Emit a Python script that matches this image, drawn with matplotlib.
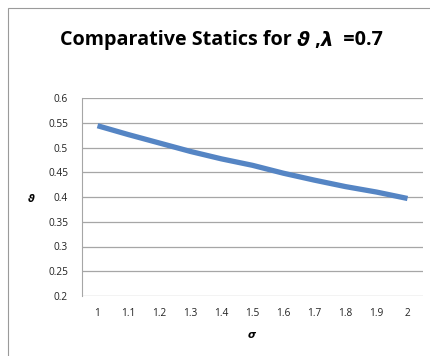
import matplotlib
matplotlib.use("Agg")
import matplotlib.pyplot as plt
from matplotlib.patches import Rectangle

# data
sigma = ["1", "1.1", "1.2", "1.3", "1.4", "1.5", "1.6", "1.7", "1.8", "1.9", "2"]
theta = [0.544, 0.526, 0.509, 0.492, 0.477, 0.464, 0.448, 0.434, 0.421, 0.410, 0.397]
y_ticks = [0.2, 0.25, 0.3, 0.35, 0.4, 0.45, 0.5, 0.55, 0.6]
y_labels = ["0.2", "0.25", "0.3", "0.35", "0.4", "0.45", "0.5", "0.55", "0.6"]

W, H = 431, 356
fig = plt.figure(figsize=(W / 100, H / 100), dpi=100)
fig.patch.set_facecolor("white")

# chart border (only left and top edges are inside the picture)
fig.patches.append(Rectangle((8 / W, -20 / H), 440 / W, 368 / H, transform=fig.transFigure,
                             fill=False, edgecolor="#9a9a9a", linewidth=0.8))

ax = fig.add_axes([82 / W, 1 - 296 / H, 341 / W, 198 / H])
x = range(len(sigma))
ax.plot(x, theta, color="#5585c4", linewidth=3.8, solid_capstyle="butt")
ax.set_xlim(-0.5, len(sigma) - 0.5)
ax.set_ylim(0.2, 0.6)
ax.set_xticks(list(x))
ax.set_xticklabels(sigma)
ax.set_yticks(y_ticks)
ax.set_yticklabels(y_labels)
ax.tick_params(axis="y", length=0, labelsize=7.3, colors="#222222", pad=10)
ax.tick_params(axis="x", length=0, labelsize=7.3, colors="#222222", pad=9)
for lab in ax.get_xticklabels() + ax.get_yticklabels():
    lab.set_family("Open Sans")
ax.grid(axis="y", color="#a6a6a6", linewidth=0.9)
ax.set_axisbelow(True)
for s in ["top", "right", "bottom"]:
    ax.spines[s].set_visible(False)
ax.spines["left"].set_color("#a6a6a6")

fig.text(31 / W, 1 - 199 / H, "\u03d1", fontsize=7.5, fontweight="bold", style="italic",
         family="DejaVu Sans", ha="center", va="center")
fig.text(252 / W, 1 - 335 / H, "\u03c3", fontsize=7.5, fontweight="bold", style="italic",
         family="DejaVu Sans", ha="center", va="center")

# title built from pieces so the greek letters can be italic
parts = [("Comparative Statics for ", "Open Sans", "normal"),
         ("\u03d1", "DejaVu Sans", "italic"),
         (" ,", "Open Sans", "normal"),
         ("\u03bb", "DejaVu Sans", "italic"),
         ("  =0.7", "Open Sans", "normal")]
renderer = fig.canvas.get_renderer()
texts = []
for s, fam, st in parts:
    t = fig.text(0, 1 - 40 / H, s, fontsize=14.2, fontweight="bold", family=fam, style=st,
                 va="center", ha="left")
    texts.append(t)
widths = [t.get_window_extent(renderer).width for t in texts]
xpos = 60
for t, w in zip(texts, widths):
    t.set_x(xpos / W)
    xpos += w

fig.savefig("out.png", dpi=100)
